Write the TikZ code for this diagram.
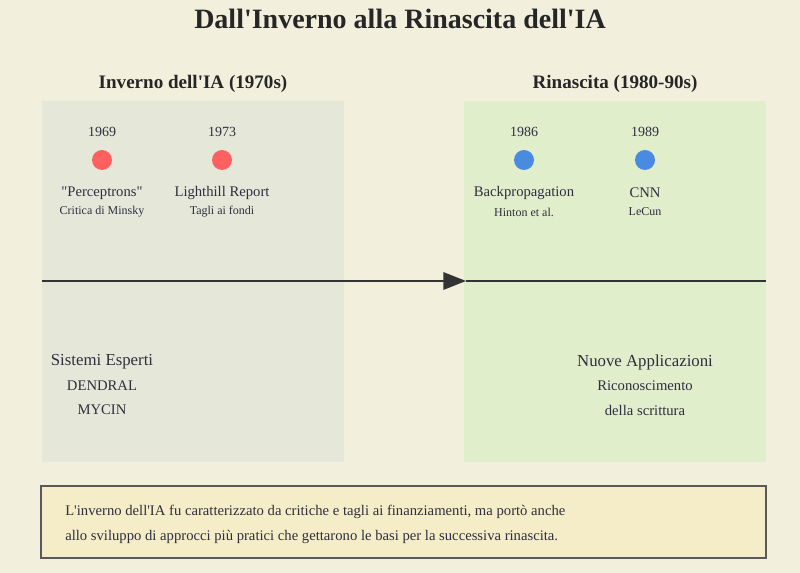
\documentclass[tikz,border=0pt]{standalone}
\usepackage{fontspec}
\setmainfont{Liberation Serif}
\newfontfamily\testoDiritto{Liberation Serif}
\usetikzlibrary{arrows.meta}

\definecolor{sfondo}{HTML}{F2EFDC}
\definecolor{pannelloInverno}{HTML}{E5E8D9}
\definecolor{pannelloRinascita}{HTML}{E0EECC}
\definecolor{notaFondo}{HTML}{F5EDC8}
\definecolor{puntoRosso}{HTML}{FF6161}
\definecolor{puntoBlu}{HTML}{4A8BE2}
\definecolor{testo}{HTML}{2E2E3E}
\definecolor{linea}{HTML}{333333}

\tikzset{
    titolo/.style={font=\testoDiritto\bfseries\fontsize{21}{25}\selectfont, text=black!85},
    intestazione/.style={font=\testoDiritto\bfseries\fontsize{14.3}{17}\selectfont, text=black!85},
    anno/.style={font=\testoDiritto\fontsize{10.5}{13}\selectfont, text=testo},
    evento/.style={font=\testoDiritto\fontsize{11}{13}\selectfont, text=testo},
    dettaglio/.style={font=\testoDiritto\fontsize{9}{11}\selectfont, text=testo},
    voce/.style={font=\testoDiritto\fontsize{11}{13}\selectfont, text=testo},
    gruppo/.style={font=\testoDiritto\fontsize{12.6}{15}\selectfont, text=testo},
    puntoInverno/.style={circle, fill=puntoRosso, minimum size=15pt, inner sep=0pt},
    puntoRinascita/.style={circle, fill=puntoBlu, minimum size=15pt, inner sep=0pt},
}

\begin{document}
\begin{tikzpicture}[x=0.75pt,y=-0.75pt]
    % sfondo
    \fill[sfondo] (0,0) rectangle (800,573);
    \useasboundingbox (0,0) rectangle (800,573);

    \node[titolo] (title) at (400,19) {Dall'Inverno alla Rinascita dell'IA};

    % pannelli
    \fill[pannelloInverno] (42,101) rectangle (344,462);
    \fill[pannelloRinascita] (464,101) rectangle (766,462);
    \node[intestazione] (headInverno) at (193,84) {Inverno dell'IA (1970s)};
    \node[intestazione] (headRinascita) at (615,84) {Rinascita (1980-90s)};

    % linea del tempo
    \coordinate (tlStart) at (42,281);
    \coordinate (tlMid) at (466,281);
    \coordinate (tlEnd) at (766,281);
    \draw[linea, line width=1.6pt, -{Triangle[length=17pt,width=13pt]}] (tlStart) -- (tlMid);
    \draw[linea, line width=1.6pt] (tlMid) -- (tlEnd);

    % eventi inverno
    \node[anno] (y1969) at (102,132) {1969};
    \node[puntoInverno] (p1969) at (102,160) {};
    \node[evento] (perceptrons) at (102,193) {"Perceptrons"};
    \node[dettaglio] (minsky) at (102,212) {Critica di Minsky};

    \node[anno] (y1973) at (222,132) {1973};
    \node[puntoInverno] (p1973) at (222,160) {};
    \node[evento] (lighthill) at (222,193) {Lighthill Report};
    \node[dettaglio] (tagli) at (222,212) {Tagli ai fondi};

    % eventi rinascita
    \node[anno] (y1986) at (524,132) {1986};
    \node[puntoRinascita] (p1986) at (524,160) {};
    \node[evento] (backprop) at (524,193) {Backpropagation};
    \node[dettaglio] (hinton) at (524,212) {Hinton et al.};

    \node[anno] (y1989) at (645,132) {1989};
    \node[puntoRinascita] (p1989) at (645,160) {};
    \node[evento] (cnn) at (645,193) {CNN};
    \node[dettaglio] (lecun) at (645,212) {LeCun};

    % sotto la linea
    \node[gruppo] (esperti) at (102,362) {Sistemi Esperti};
    \node[voce] (dendral) at (102,386) {DENDRAL};
    \node[voce] (mycin) at (102,410) {MYCIN};

    \node[gruppo] (applicazioni) at (645,362) {Nuove Applicazioni};
    \node[voce] (riconoscimento) at (645,386) {Riconoscimento};
    \node[voce] (scrittura) at (645,410) {della scrittura};

    % nota finale
    \draw[fill=notaFondo, draw=black!65, line width=0.8pt] (41,486) rectangle (766,558);
    \node[voce, anchor=west, inner sep=0pt] (nota1) at (65,512) {L'inverno dell'IA fu caratterizzato da critiche e tagli ai finanziamenti, ma portò anche};
    \node[voce, anchor=west, inner sep=0pt] (nota2) at (65,537) {allo sviluppo di approcci più pratici che gettarono le basi per la successiva rinascita.};
\end{tikzpicture}
\end{document}
